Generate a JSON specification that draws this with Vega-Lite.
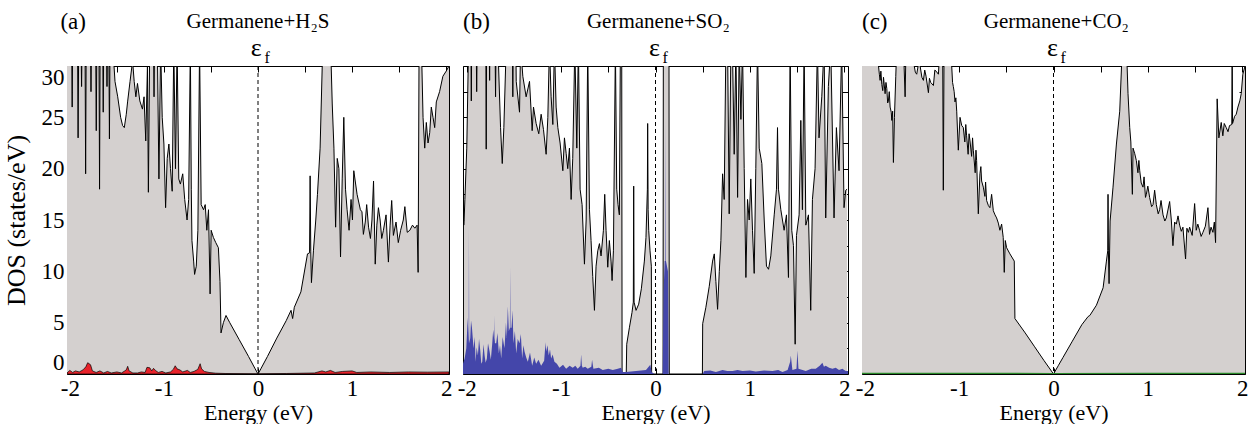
{
  "$schema": "https://vega.github.io/schema/vega-lite/v6.json",
  "background": "white",
  "padding": {"left": 2, "top": 10, "right": 5, "bottom": 0},
  "datasets": {
    "aTot": [
      {"e":-2.03,"d":32},{"e":-1.98,"d":32},{"e":-1.975,"d":26},{"e":-1.97,"d":32},{"e":-1.918,"d":32},{"e":-1.912,"d":23},{"e":-1.906,"d":32},{"e":-1.88,"d":32},{"e":-1.875,"d":28},{"e":-1.87,"d":32},{"e":-1.838,"d":32},{"e":-1.832,"d":19.5},{"e":-1.826,"d":32},{"e":-1.78,"d":32},{"e":-1.775,"d":27.5},{"e":-1.77,"d":32},{"e":-1.725,"d":32},{"e":-1.719,"d":23.7},{"e":-1.713,"d":32},{"e":-1.69,"d":32},{"e":-1.684,"d":18},{"e":-1.678,"d":32},{"e":-1.65,"d":32},{"e":-1.645,"d":25.5},{"e":-1.64,"d":32},{"e":-1.61,"d":32},{"e":-1.605,"d":28},{"e":-1.6,"d":32},{"e":-1.585,"d":32},{"e":-1.579,"d":22.9},{"e":-1.573,"d":32},{"e":-1.544,"d":32},{"e":-1.52,"d":28.5},{"e":-1.491,"d":27},{"e":-1.46,"d":25},{"e":-1.439,"d":24.2},{"e":-1.421,"d":24},{"e":-1.4,"d":25.3},{"e":-1.386,"d":26.5},{"e":-1.36,"d":28.5},{"e":-1.333,"d":30.5},{"e":-1.316,"d":28.5},{"e":-1.298,"d":27},{"e":-1.281,"d":28.3},{"e":-1.256,"d":26.6},{"e":-1.228,"d":25.8},{"e":-1.211,"d":27},{"e":-1.193,"d":22.7},{"e":-1.175,"d":30},{"e":-1.165,"d":17.7},{"e":-1.151,"d":32},{"e":-1.11,"d":32},{"e":-1.105,"d":27},{"e":-1.1,"d":32},{"e":-1.07,"d":32},{"e":-1.053,"d":19},{"e":-1.035,"d":32},{"e":-1.018,"d":25},{"e":-1.0,"d":22.4},{"e":-0.982,"d":16.2},{"e":-0.965,"d":21},{"e":-0.947,"d":22.4},{"e":-0.93,"d":20},{"e":-0.912,"d":17.8},{"e":-0.895,"d":32},{"e":-0.877,"d":20},{"e":-0.86,"d":32},{"e":-0.842,"d":19},{"e":-0.825,"d":18.5},{"e":-0.8,"d":19.5},{"e":-0.779,"d":17},{"e":-0.754,"d":15},{"e":-0.737,"d":17},{"e":-0.719,"d":32},{"e":-0.709,"d":18},{"e":-0.702,"d":13},{"e":-0.684,"d":11},{"e":-0.674,"d":9.7},{"e":-0.656,"d":10.5},{"e":-0.639,"d":14},{"e":-0.621,"d":32},{"e":-0.604,"d":16.5},{"e":-0.579,"d":16},{"e":-0.561,"d":16.5},{"e":-0.544,"d":14},{"e":-0.526,"d":16},{"e":-0.509,"d":7.8},{"e":-0.498,"d":14},{"e":-0.474,"d":13.3},{"e":-0.449,"d":12.8},{"e":-0.421,"d":12.3},{"e":-0.404,"d":9},{"e":-0.393,"d":4},{"e":-0.368,"d":5},{"e":-0.34,"d":5.7},{"e":-0.3,"d":5.0},{"e":-0.2,"d":3.35},{"e":-0.1,"d":1.7},{"e":-0.03,"d":0.5},{"e":0,"d":0},{"e":0.03,"d":0.5},{"e":0.1,"d":1.7},{"e":0.2,"d":3.5},{"e":0.3,"d":5.2},{"e":0.351,"d":6.2},{"e":0.368,"d":5.4},{"e":0.386,"d":6.5},{"e":0.456,"d":8},{"e":0.526,"d":11.7},{"e":0.548,"d":11.8},{"e":0.554,"d":19.3},{"e":0.561,"d":11.9},{"e":0.568,"d":8.9},{"e":0.589,"d":12},{"e":0.614,"d":15},{"e":0.632,"d":17.5},{"e":0.66,"d":22},{"e":0.684,"d":30.5},{"e":0.702,"d":32},{"e":0.772,"d":32},{"e":0.789,"d":26.3},{"e":0.807,"d":22},{"e":0.825,"d":14.3},{"e":0.842,"d":21},{"e":0.86,"d":20},{"e":0.877,"d":11.4},{"e":0.895,"d":19},{"e":0.912,"d":25},{"e":0.93,"d":18},{"e":0.947,"d":16},{"e":0.968,"d":14},{"e":0.989,"d":17},{"e":1.004,"d":15},{"e":1.018,"d":19.8},{"e":1.053,"d":17.5},{"e":1.088,"d":16},{"e":1.105,"d":15.8},{"e":1.12,"d":13.6},{"e":1.14,"d":14.8},{"e":1.155,"d":16.5},{"e":1.175,"d":14.3},{"e":1.195,"d":13.2},{"e":1.211,"d":15},{"e":1.228,"d":18.8},{"e":1.246,"d":10.7},{"e":1.263,"d":14.5},{"e":1.28,"d":16.2},{"e":1.298,"d":15},{"e":1.315,"d":13.2},{"e":1.333,"d":14},{"e":1.361,"d":15.5},{"e":1.386,"d":10.9},{"e":1.404,"d":14.5},{"e":1.421,"d":16.9},{"e":1.439,"d":13.5},{"e":1.467,"d":14.8},{"e":1.491,"d":12.8},{"e":1.516,"d":14},{"e":1.544,"d":15},{"e":1.561,"d":16.3},{"e":1.586,"d":13.8},{"e":1.614,"d":14},{"e":1.642,"d":14.5},{"e":1.667,"d":14.2},{"e":1.691,"d":14.5},{"e":1.702,"d":9.9},{"e":1.712,"d":32},{"e":1.737,"d":32},{"e":1.754,"d":25},{"e":1.772,"d":22},{"e":1.789,"d":24.5},{"e":1.807,"d":22.5},{"e":1.825,"d":23.5},{"e":1.842,"d":26},{"e":1.86,"d":25},{"e":1.878,"d":24},{"e":1.895,"d":26.5},{"e":1.93,"d":27.5},{"e":1.965,"d":29},{"e":2.0,"d":29.5},{"e":2.03,"d":30}
    ],
    "aAds": [
      {"e":-2.03,"d":0.1},{"e":-2.0,"d":0.35},{"e":-1.97,"d":0.15},{"e":-1.94,"d":0.3},{"e":-1.9,"d":0.2},{"e":-1.86,"d":0.4},{"e":-1.83,"d":0.7},{"e":-1.81,"d":1.1},{"e":-1.78,"d":0.9},{"e":-1.76,"d":0.3},{"e":-1.72,"d":0.15},{"e":-1.68,"d":0.3},{"e":-1.64,"d":0.1},{"e":-1.6,"d":0.25},{"e":-1.56,"d":0.1},{"e":-1.5,"d":0.2},{"e":-1.45,"d":0.1},{"e":-1.4,"d":0.4},{"e":-1.385,"d":0.75},{"e":-1.37,"d":0.3},{"e":-1.33,"d":0.1},{"e":-1.28,"d":0.1},{"e":-1.24,"d":0.2},{"e":-1.2,"d":0.15},{"e":-1.18,"d":0.65},{"e":-1.15,"d":0.6},{"e":-1.13,"d":0.3},{"e":-1.11,"d":0.55},{"e":-1.09,"d":0.35},{"e":-1.06,"d":0.15},{"e":-1.02,"d":0.25},{"e":-0.98,"d":0.1},{"e":-0.93,"d":0.2},{"e":-0.9,"d":0.45},{"e":-0.88,"d":0.8},{"e":-0.86,"d":0.5},{"e":-0.83,"d":0.4},{"e":-0.8,"d":0.2},{"e":-0.75,"d":0.35},{"e":-0.72,"d":0.15},{"e":-0.68,"d":0.25},{"e":-0.64,"d":0.45},{"e":-0.615,"d":1.0},{"e":-0.6,"d":0.5},{"e":-0.57,"d":0.25},{"e":-0.52,"d":0.15},{"e":-0.45,"d":0.08},{"e":-0.35,"d":0.05},{"e":0,"d":0.02},{"e":0.3,"d":0.05},{"e":0.6,"d":0.1},{"e":0.68,"d":0.3},{"e":0.72,"d":0.2},{"e":0.77,"d":0.35},{"e":0.82,"d":0.15},{"e":0.9,"d":0.25},{"e":1.0,"d":0.3},{"e":1.05,"d":0.15},{"e":1.2,"d":0.2},{"e":1.4,"d":0.15},{"e":1.6,"d":0.2},{"e":1.8,"d":0.18},{"e":2.03,"d":0.2}
    ],
    "bTot": [
      {"e":-2.03,"d":14.5},{"e":-2.02,"d":17},{"e":-2.0,"d":22},{"e":-1.985,"d":30},{"e":-1.975,"d":32},{"e":-1.956,"d":32},{"e":-1.952,"d":26.6},{"e":-1.948,"d":32},{"e":-1.9,"d":32},{"e":-1.895,"d":27.5},{"e":-1.89,"d":32},{"e":-1.798,"d":32},{"e":-1.794,"d":21.9},{"e":-1.79,"d":32},{"e":-1.762,"d":32},{"e":-1.758,"d":28.6},{"e":-1.754,"d":32},{"e":-1.7,"d":32},{"e":-1.695,"d":27},{"e":-1.69,"d":32},{"e":-1.67,"d":32},{"e":-1.642,"d":24},{"e":-1.624,"d":20.5},{"e":-1.607,"d":24},{"e":-1.582,"d":32},{"e":-1.516,"d":32},{"e":-1.512,"d":27},{"e":-1.508,"d":32},{"e":-1.48,"d":32},{"e":-1.476,"d":28.5},{"e":-1.441,"d":25.5},{"e":-1.43,"d":32},{"e":-1.406,"d":29},{"e":-1.371,"d":27},{"e":-1.335,"d":28.5},{"e":-1.307,"d":23.7},{"e":-1.293,"d":26},{"e":-1.265,"d":24.4},{"e":-1.237,"d":23.4},{"e":-1.212,"d":25.3},{"e":-1.187,"d":23.8},{"e":-1.159,"d":21.4},{"e":-1.141,"d":25},{"e":-1.124,"d":32},{"e":-1.106,"d":27},{"e":-1.088,"d":24.3},{"e":-1.071,"d":32},{"e":-1.053,"d":26},{"e":-1.035,"d":24},{"e":-1.011,"d":22.5},{"e":-0.982,"d":19.8},{"e":-0.965,"d":23},{"e":-0.947,"d":21.5},{"e":-0.93,"d":20},{"e":-0.912,"d":22},{"e":-0.894,"d":17},{"e":-0.877,"d":21},{"e":-0.855,"d":32},{"e":-0.834,"d":22},{"e":-0.817,"d":32},{"e":-0.799,"d":18},{"e":-0.778,"d":16.5},{"e":-0.753,"d":10.7},{"e":-0.735,"d":15},{"e":-0.718,"d":32},{"e":-0.7,"d":16},{"e":-0.683,"d":13},{"e":-0.665,"d":9.5},{"e":-0.647,"d":6.2},{"e":-0.63,"d":10.5},{"e":-0.612,"d":12},{"e":-0.594,"d":12.7},{"e":-0.577,"d":11.5},{"e":-0.552,"d":14},{"e":-0.538,"d":17.5},{"e":-0.524,"d":14},{"e":-0.506,"d":10.4},{"e":-0.489,"d":13},{"e":-0.471,"d":11},{"e":-0.46,"d":9.1},{"e":-0.446,"d":12},{"e":-0.425,"d":32},{"e":-0.411,"d":18},{"e":-0.397,"d":16.5},{"e":-0.383,"d":15.5},{"e":-0.372,"d":32},{"e":-0.358,"d":32},{"e":-0.354,"d":0},{"e":-0.31,"d":0},{"e":-0.305,"d":2.9},{"e":-0.277,"d":4.5},{"e":-0.249,"d":6},{"e":-0.235,"d":7},{"e":-0.231,"d":18.3},{"e":-0.227,"d":7},{"e":-0.206,"d":6.2},{"e":-0.178,"d":6.8},{"e":-0.15,"d":8.3},{"e":-0.118,"d":11},{"e":-0.101,"d":13.3},{"e":-0.086,"d":18},{"e":-0.083,"d":24.4},{"e":-0.078,"d":16},{"e":-0.072,"d":14},{"e":-0.058,"d":12},{"e":-0.044,"d":10.5},{"e":-0.041,"d":0},{"e":0.08,"d":0},{"e":0.083,"d":32},{"e":0.143,"d":32},{"e":0.146,"d":0},{"e":0.497,"d":0},{"e":0.5,"d":4.9},{"e":0.534,"d":6.5},{"e":0.569,"d":8.5},{"e":0.605,"d":11},{"e":0.623,"d":11.7},{"e":0.64,"d":9},{"e":0.658,"d":6.3},{"e":0.676,"d":10},{"e":0.693,"d":13},{"e":0.711,"d":19.5},{"e":0.728,"d":17},{"e":0.746,"d":32},{"e":0.764,"d":32},{"e":0.781,"d":15.6},{"e":0.799,"d":32},{"e":0.815,"d":32},{"e":0.834,"d":21.4},{"e":0.852,"d":32},{"e":0.87,"d":17.2},{"e":0.887,"d":32},{"e":0.905,"d":24.8},{"e":0.922,"d":32},{"e":0.94,"d":20},{"e":0.958,"d":9.4},{"e":0.975,"d":17},{"e":0.993,"d":15},{"e":1.01,"d":19},{"e":1.028,"d":14},{"e":1.046,"d":9.8},{"e":1.063,"d":20},{"e":1.081,"d":32},{"e":1.099,"d":22},{"e":1.127,"d":20.5},{"e":1.152,"d":15},{"e":1.176,"d":10.5},{"e":1.198,"d":10.2},{"e":1.222,"d":11.5},{"e":1.258,"d":15.5},{"e":1.282,"d":18},{"e":1.293,"d":24},{"e":1.303,"d":18},{"e":1.328,"d":16},{"e":1.363,"d":14},{"e":1.388,"d":15.5},{"e":1.409,"d":9.4},{"e":1.427,"d":32},{"e":1.444,"d":14},{"e":1.462,"d":12.5},{"e":1.48,"d":2.9},{"e":1.494,"d":13.5},{"e":1.522,"d":15.5},{"e":1.54,"d":24.7},{"e":1.557,"d":16},{"e":1.575,"d":32},{"e":1.593,"d":14.5},{"e":1.621,"d":15.5},{"e":1.645,"d":6.2},{"e":1.663,"d":17},{"e":1.691,"d":20},{"e":1.716,"d":32},{"e":1.733,"d":23},{"e":1.762,"d":27},{"e":1.787,"d":32},{"e":1.804,"d":15.2},{"e":1.832,"d":28},{"e":1.857,"d":32},{"e":1.892,"d":15.2},{"e":1.917,"d":24},{"e":1.945,"d":19.8},{"e":1.973,"d":32},{"e":1.998,"d":16.2},{"e":2.016,"d":17.9},{"e":2.03,"d":18}
    ],
    "bAds": [
      {"e":-2.04,"d":1.0},{"e":-2.023,"d":1.5},{"e":-2.005,"d":2.5},{"e":-1.99,"d":5.5},{"e":-1.98,"d":3},{"e":-1.977,"d":14.4},{"e":-1.974,"d":3},{"e":-1.963,"d":3.5},{"e":-1.955,"d":5.2},{"e":-1.945,"d":4.5},{"e":-1.928,"d":2.5},{"e":-1.915,"d":3.6},{"e":-1.907,"d":1.2},{"e":-1.895,"d":2.6},{"e":-1.882,"d":1.8},{"e":-1.87,"d":3.4},{"e":-1.857,"d":2.3},{"e":-1.846,"d":1.0},{"e":-1.836,"d":1.2},{"e":-1.823,"d":2.9},{"e":-1.811,"d":1.8},{"e":-1.8,"d":1.1},{"e":-1.787,"d":1.5},{"e":-1.775,"d":3.0},{"e":-1.758,"d":2.2},{"e":-1.745,"d":1.4},{"e":-1.73,"d":3},{"e":-1.72,"d":4.3},{"e":-1.708,"d":3.2},{"e":-1.705,"d":5.7},{"e":-1.702,"d":3},{"e":-1.688,"d":3},{"e":-1.675,"d":4.0},{"e":-1.66,"d":2},{"e":-1.648,"d":2.8},{"e":-1.635,"d":1.5},{"e":-1.62,"d":3.6},{"e":-1.6,"d":2.5},{"e":-1.585,"d":5.0},{"e":-1.575,"d":3.5},{"e":-1.565,"d":6.6},{"e":-1.554,"d":4.2},{"e":-1.543,"d":4.5},{"e":-1.54,"d":10.4},{"e":-1.537,"d":4.5},{"e":-1.526,"d":4.5},{"e":-1.515,"d":6.2},{"e":-1.505,"d":3},{"e":-1.49,"d":4.2},{"e":-1.476,"d":2},{"e":-1.46,"d":3.4},{"e":-1.441,"d":3},{"e":-1.427,"d":3.9},{"e":-1.413,"d":1.5},{"e":-1.4,"d":2.8},{"e":-1.388,"d":2.2},{"e":-1.37,"d":1.6},{"e":-1.353,"d":1.2},{"e":-1.33,"d":2.1},{"e":-1.307,"d":0.8},{"e":-1.285,"d":1.6},{"e":-1.265,"d":1},{"e":-1.24,"d":1.4},{"e":-1.212,"d":0.8},{"e":-1.18,"d":1.3},{"e":-1.165,"d":3.1},{"e":-1.159,"d":2.2},{"e":-1.145,"d":2.8},{"e":-1.131,"d":1.8},{"e":-1.118,"d":2.4},{"e":-1.106,"d":1.5},{"e":-1.09,"d":1.9},{"e":-1.071,"d":1.2},{"e":-1.045,"d":1.0},{"e":-1.018,"d":0.6},{"e":-0.98,"d":0.9},{"e":-0.947,"d":0.5},{"e":-0.91,"d":0.8},{"e":-0.877,"d":0.6},{"e":-0.85,"d":0.8},{"e":-0.824,"d":0.5},{"e":-0.795,"d":0.8},{"e":-0.788,"d":1.9},{"e":-0.78,"d":0.8},{"e":-0.771,"d":0.6},{"e":-0.745,"d":0.7},{"e":-0.718,"d":0.5},{"e":-0.68,"d":0.7},{"e":-0.672,"d":1.4},{"e":-0.658,"d":0.5},{"e":-0.6,"d":0.6},{"e":-0.559,"d":0.4},{"e":-0.5,"d":0.5},{"e":-0.453,"d":0.4},{"e":-0.4,"d":0.5},{"e":-0.365,"d":0.6},{"e":-0.347,"d":0.2},{"e":-0.312,"d":0.2},{"e":-0.206,"d":0.3},{"e":-0.101,"d":0.4},{"e":-0.055,"d":0.9},{"e":-0.041,"d":0.2},{"e":-0.012,"d":0},{"e":0.076,"d":0},{"e":0.086,"d":8},{"e":0.097,"d":11},{"e":0.105,"d":11},{"e":0.108,"d":25},{"e":0.111,"d":11},{"e":0.132,"d":10},{"e":0.139,"d":0},{"e":0.499,"d":0},{"e":0.517,"d":0.3},{"e":0.58,"d":0.35},{"e":0.64,"d":0.2},{"e":0.711,"d":0.4},{"e":0.76,"d":0.3},{"e":0.817,"d":0.3},{"e":0.87,"d":0.4},{"e":0.922,"d":0.3},{"e":1.0,"d":0.35},{"e":1.063,"d":0.25},{"e":1.15,"d":0.35},{"e":1.24,"d":0.3},{"e":1.3,"d":0.4},{"e":1.346,"d":0.2},{"e":1.4,"d":0.4},{"e":1.427,"d":1.2},{"e":1.434,"d":1.8},{"e":1.451,"d":0.4},{"e":1.494,"d":0.5},{"e":1.504,"d":2.3},{"e":1.515,"d":0.5},{"e":1.593,"d":0.3},{"e":1.65,"d":0.5},{"e":1.698,"d":0.5},{"e":1.74,"d":0.8},{"e":1.769,"d":1.1},{"e":1.785,"d":0.7},{"e":1.804,"d":0.8},{"e":1.84,"d":0.6},{"e":1.875,"d":0.5},{"e":1.91,"d":0.6},{"e":1.945,"d":0.4},{"e":1.98,"d":0.5},{"e":2.016,"d":0.3},{"e":2.04,"d":0.3}
    ],
    "cTot": [
      {"e":-2.03,"d":32},{"e":-1.873,"d":32},{"e":-1.855,"d":30},{"e":-1.846,"d":29.2},{"e":-1.838,"d":28.6},{"e":-1.83,"d":29.5},{"e":-1.82,"d":28.2},{"e":-1.81,"d":27.6},{"e":-1.802,"d":28.9},{"e":-1.785,"d":27.3},{"e":-1.776,"d":28.4},{"e":-1.767,"d":27.8},{"e":-1.758,"d":26.4},{"e":-1.75,"d":26.6},{"e":-1.741,"d":27.5},{"e":-1.732,"d":26},{"e":-1.72,"d":25.5},{"e":-1.714,"d":24.7},{"e":-1.705,"d":25.6},{"e":-1.697,"d":20.6},{"e":-1.686,"d":25},{"e":-1.672,"d":29},{"e":-1.661,"d":32},{"e":-1.591,"d":32},{"e":-1.573,"d":27},{"e":-1.563,"d":32},{"e":-1.52,"d":30},{"e":-1.485,"d":30.5},{"e":-1.465,"d":29.4},{"e":-1.45,"d":29.2},{"e":-1.43,"d":30.3},{"e":-1.414,"d":30},{"e":-1.395,"d":28.9},{"e":-1.379,"d":28.6},{"e":-1.365,"d":29.6},{"e":-1.351,"d":29},{"e":-1.326,"d":27.4},{"e":-1.315,"d":28.8},{"e":-1.302,"d":28.4},{"e":-1.273,"d":28.1},{"e":-1.258,"d":29.6},{"e":-1.245,"d":29.5},{"e":-1.22,"d":29.2},{"e":-1.203,"d":32},{"e":-1.175,"d":32},{"e":-1.168,"d":17.9},{"e":-1.16,"d":32},{"e":-1.097,"d":32},{"e":-1.079,"d":30},{"e":-1.07,"d":28.4},{"e":-1.062,"d":28},{"e":-1.053,"d":27.5},{"e":-1.044,"d":26.5},{"e":-1.035,"d":26.9},{"e":-1.026,"d":25.6},{"e":-1.009,"d":21.8},{"e":-0.991,"d":25},{"e":-0.973,"d":24.2},{"e":-0.956,"d":24},{"e":-0.94,"d":22.6},{"e":-0.93,"d":24.3},{"e":-0.921,"d":23.2},{"e":-0.905,"d":21.4},{"e":-0.895,"d":23.4},{"e":-0.885,"d":22.7},{"e":-0.868,"d":21.2},{"e":-0.858,"d":23},{"e":-0.85,"d":21.8},{"e":-0.83,"d":19.6},{"e":-0.822,"d":21.8},{"e":-0.815,"d":20.8},{"e":-0.797,"d":15.6},{"e":-0.78,"d":19.5},{"e":-0.77,"d":20.2},{"e":-0.762,"d":18.8},{"e":-0.744,"d":18.2},{"e":-0.727,"d":17.3},{"e":-0.72,"d":18.7},{"e":-0.709,"d":16.9},{"e":-0.69,"d":16.4},{"e":-0.674,"d":16.2},{"e":-0.656,"d":17.5},{"e":-0.638,"d":15.9},{"e":-0.62,"d":15.5},{"e":-0.603,"d":15.2},{"e":-0.585,"d":14.7},{"e":-0.568,"d":14},{"e":-0.55,"d":14.6},{"e":-0.533,"d":13.3},{"e":-0.522,"d":9.9},{"e":-0.511,"d":13},{"e":-0.497,"d":12.3},{"e":-0.462,"d":11.7},{"e":-0.416,"d":11},{"e":-0.409,"d":5.4},{"e":-0.3,"d":4.0},{"e":-0.2,"d":2.65},{"e":-0.1,"d":1.3},{"e":0,"d":0},{"e":0.05,"d":0.8},{"e":0.1,"d":1.6},{"e":0.2,"d":3.2},{"e":0.3,"d":4.8},{"e":0.367,"d":5.6},{"e":0.385,"d":5.7},{"e":0.455,"d":6.7},{"e":0.526,"d":8.4},{"e":0.561,"d":11},{"e":0.575,"d":12},{"e":0.578,"d":17.5},{"e":0.582,"d":12},{"e":0.589,"d":8.8},{"e":0.6,"d":14.9},{"e":0.631,"d":18.2},{"e":0.667,"d":22.4},{"e":0.702,"d":25.6},{"e":0.73,"d":32},{"e":0.773,"d":32},{"e":0.79,"d":27.3},{"e":0.808,"d":24},{"e":0.82,"d":22.6},{"e":0.836,"d":17.5},{"e":0.843,"d":22},{"e":0.86,"d":21.5},{"e":0.878,"d":20.8},{"e":0.895,"d":19.6},{"e":0.905,"d":20.8},{"e":0.914,"d":19.8},{"e":0.93,"d":18.6},{"e":0.949,"d":18.2},{"e":0.96,"d":19.2},{"e":0.975,"d":17.2},{"e":0.984,"d":17.5},{"e":1.0,"d":18.3},{"e":1.019,"d":17.2},{"e":1.04,"d":16.3},{"e":1.055,"d":16.5},{"e":1.072,"d":17.9},{"e":1.09,"d":16.5},{"e":1.11,"d":15.6},{"e":1.125,"d":16},{"e":1.14,"d":16.9},{"e":1.161,"d":15.5},{"e":1.18,"d":14.9},{"e":1.196,"d":15.2},{"e":1.231,"d":16.8},{"e":1.249,"d":15},{"e":1.266,"d":12.5},{"e":1.284,"d":14.8},{"e":1.302,"d":14.6},{"e":1.32,"d":15.4},{"e":1.337,"d":14.5},{"e":1.355,"d":13.9},{"e":1.372,"d":14.3},{"e":1.4,"d":11.2},{"e":1.414,"d":14.2},{"e":1.43,"d":13.8},{"e":1.443,"d":14.3},{"e":1.47,"d":13.5},{"e":1.496,"d":16.6},{"e":1.513,"d":14},{"e":1.53,"d":14.6},{"e":1.548,"d":14},{"e":1.565,"d":13.4},{"e":1.584,"d":13.8},{"e":1.61,"d":14.4},{"e":1.637,"d":16.2},{"e":1.654,"d":13.6},{"e":1.67,"d":14.3},{"e":1.69,"d":13.8},{"e":1.705,"d":14.8},{"e":1.718,"d":12.8},{"e":1.735,"d":26.8},{"e":1.753,"d":23},{"e":1.778,"d":24.5},{"e":1.795,"d":23.2},{"e":1.81,"d":24.4},{"e":1.831,"d":24},{"e":1.85,"d":23.6},{"e":1.866,"d":24.2},{"e":1.89,"d":24.3},{"e":1.894,"d":32},{"e":1.898,"d":24.4},{"e":1.92,"d":25.1},{"e":1.937,"d":25.3},{"e":1.955,"d":26},{"e":1.975,"d":26.6},{"e":1.99,"d":27.3},{"e":2.007,"d":29.2},{"e":2.03,"d":30}
    ],
    "cAds": [
      {"e":-2.03,"d":0.05},{"e":-1.0,"d":0.06},{"e":0,"d":0.03},{"e":1.0,"d":0.06},{"e":2.03,"d":0.05}
    ]
  },
  "config": {
    "view": {"stroke": "black", "strokeWidth": 1},
    "font": "Liberation Serif",
    "axis": {
      "grid": false, "domain": false, "tickColor": "black", "tickSize": -6, "tickWidth": 1,
      "labelColor": "black", "labelFont": "Liberation Serif", "labelFontSize": 23,
      "titleFont": "Liberation Serif", "titleFontSize": 22, "titleFontWeight": "normal", "titleColor": "black"
    },
    "text": {"font": "Liberation Serif", "color": "black"}
  },
  "hconcat": [
    {
      "width": 382, "height": 308,
      "resolve": {"axis": {"x": "independent", "y": "independent"}},
      "layer": [
        {"data": {"name": "aTot"}, "mark": {"type": "area", "color": "#d4d0cf", "clip": true},
         "encoding": {
           "x": {"field": "e", "type": "quantitative", "scale": {"domain": [-2.03, 2.03], "nice": false, "zero": false},
                 "axis": {"orient": "bottom", "values": [-2,-1.5,-1,-0.5,0,0.5,1,1.5,2], "labelExpr": "datum.value % 1 === 0 ? '' + datum.value : ''", "labelFlush": false, "labelPadding": 9, "title": "Energy (eV)", "titlePadding": 2}},
           "y": {"field": "d", "type": "quantitative", "scale": {"domain": [0, 30], "nice": false},
                 "axis": {"orient": "left", "values": [0,2.5,5,7.5,10,12.5,15,17.5,20,22.5,25,27.5,30], "labelExpr": "datum.value % 5 === 0 ? '' + datum.value : ''", "labelFlush": true, "labelPadding": 9, "title": "DOS (states/eV)", "titleFontSize": 26, "titlePadding": 12}}}},
        {"data": {"name": "aTot"}, "mark": {"type": "line", "color": "black", "strokeWidth": 1, "clip": true},
         "encoding": {
           "x": {"field": "e", "type": "quantitative", "scale": {"domain": [-2.03, 2.03], "nice": false, "zero": false},
                 "axis": {"orient": "top", "values": [-2,-1.5,-1,-0.5,0,0.5,1,1.5,2], "labels": false, "title": null}},
           "y": {"field": "d", "type": "quantitative", "scale": {"domain": [0, 30], "nice": false},
                 "axis": {"orient": "right", "values": [0,2.5,5,7.5,10,12.5,15,17.5,20,22.5,25,27.5,30], "labels": false, "title": null}}}},
        {"data": {"name": "aAds"}, "mark": {"type": "area", "color": "#e8222a", "stroke": "black", "strokeWidth": 0.7, "clip": true},
         "encoding": {
           "x": {"field": "e", "type": "quantitative", "scale": {"domain": [-2.03, 2.03], "nice": false, "zero": false}, "axis": null},
           "y": {"field": "d", "type": "quantitative", "scale": {"domain": [0, 30], "nice": false}, "axis": null}}},
        {"data": {"values": [{"e": 0}]}, "mark": {"type": "rule", "color": "black", "strokeWidth": 1, "strokeDash": [4, 3]},
         "encoding": {"x": {"field": "e", "type": "quantitative", "scale": {"domain": [-2.03, 2.03], "nice": false, "zero": false}, "axis": null}}},
        {"data": {"values": [{"t": "(a)"}]}, "mark": {"type": "text", "align": "left", "baseline": "alphabetic", "fontSize": 23},
         "encoding": {"x": {"datum": -2.1, "type": "quantitative", "axis": null}, "y": {"datum": 33.6, "type": "quantitative", "axis": null}, "text": {"field": "t"}}},
        {"data": {"values": [{"t": "Germanene+H₂S"}]}, "mark": {"type": "text", "align": "center", "baseline": "alphabetic", "fontSize": 21},
         "encoding": {"x": {"datum": 0, "type": "quantitative", "axis": null}, "y": {"datum": 33.7, "type": "quantitative", "axis": null}, "text": {"field": "t"}}},
        {"data": {"values": [{"t": "ε"}]}, "mark": {"type": "text", "align": "center", "baseline": "alphabetic", "fontSize": 26},
         "encoding": {"x": {"datum": -0.02, "type": "quantitative", "axis": null}, "y": {"datum": 30.95, "type": "quantitative", "axis": null}, "text": {"field": "t"}}},
        {"data": {"values": [{"t": "f"}]}, "mark": {"type": "text", "align": "left", "baseline": "alphabetic", "fontSize": 16},
         "encoding": {"x": {"datum": 0.07, "type": "quantitative", "axis": null}, "y": {"datum": 30.3, "type": "quantitative", "axis": null}, "text": {"field": "t"}}}
      ]
    },
    {
      "width": 385, "height": 308,
      "resolve": {"axis": {"x": "independent", "y": "independent"}},
      "layer": [
        {"data": {"name": "bTot"}, "mark": {"type": "area", "color": "#d4d0cf", "clip": true},
         "encoding": {
           "x": {"field": "e", "type": "quantitative", "scale": {"domain": [-2.04, 2.04], "nice": false, "zero": false},
                 "axis": {"orient": "bottom", "values": [-2,-1.5,-1,-0.5,0,0.5,1,1.5,2], "labelExpr": "datum.value % 1 === 0 ? '' + datum.value : ''", "labelFlush": false, "labelPadding": 9, "title": "Energy (eV)", "titlePadding": 2}},
           "y": {"field": "d", "type": "quantitative", "scale": {"domain": [0, 30], "nice": false},
                 "axis": {"orient": "left", "values": [0,2.5,5,7.5,10,12.5,15,17.5,20,22.5,25,27.5,30], "labels": false, "title": null}}}},
        {"data": {"name": "bTot"}, "mark": {"type": "line", "color": "black", "strokeWidth": 1, "clip": true},
         "encoding": {
           "x": {"field": "e", "type": "quantitative", "scale": {"domain": [-2.04, 2.04], "nice": false, "zero": false},
                 "axis": {"orient": "top", "values": [-2,-1.5,-1,-0.5,0,0.5,1,1.5,2], "labels": false, "title": null}},
           "y": {"field": "d", "type": "quantitative", "scale": {"domain": [0, 30], "nice": false},
                 "axis": {"orient": "right", "values": [0,2.5,5,7.5,10,12.5,15,17.5,20,22.5,25,27.5,30], "labels": false, "title": null}}}},
        {"data": {"name": "bAds"}, "mark": {"type": "area", "color": "#4446aa", "clip": true},
         "encoding": {
           "x": {"field": "e", "type": "quantitative", "scale": {"domain": [-2.04, 2.04], "nice": false, "zero": false}, "axis": null},
           "y": {"field": "d", "type": "quantitative", "scale": {"domain": [0, 30], "nice": false}, "axis": null}}},
        {"data": {"values": [{"e": 0}]}, "mark": {"type": "rule", "color": "black", "strokeWidth": 1, "strokeDash": [4, 3]},
         "encoding": {"x": {"field": "e", "type": "quantitative", "scale": {"domain": [-2.04, 2.04], "nice": false, "zero": false}, "axis": null}}},
        {"data": {"values": [{"t": "(b)"}]}, "mark": {"type": "text", "align": "left", "baseline": "alphabetic", "fontSize": 23},
         "encoding": {"x": {"datum": -2.04, "type": "quantitative", "axis": null}, "y": {"datum": 33.6, "type": "quantitative", "axis": null}, "text": {"field": "t"}}},
        {"data": {"values": [{"t": "Germanene+SO₂"}]}, "mark": {"type": "text", "align": "center", "baseline": "alphabetic", "fontSize": 21},
         "encoding": {"x": {"datum": 0.03, "type": "quantitative", "axis": null}, "y": {"datum": 33.7, "type": "quantitative", "axis": null}, "text": {"field": "t"}}},
        {"data": {"values": [{"t": "ε"}]}, "mark": {"type": "text", "align": "center", "baseline": "alphabetic", "fontSize": 26},
         "encoding": {"x": {"datum": -0.01, "type": "quantitative", "axis": null}, "y": {"datum": 30.95, "type": "quantitative", "axis": null}, "text": {"field": "t"}}},
        {"data": {"values": [{"t": "f"}]}, "mark": {"type": "text", "align": "left", "baseline": "alphabetic", "fontSize": 16},
         "encoding": {"x": {"datum": 0.075, "type": "quantitative", "axis": null}, "y": {"datum": 30.3, "type": "quantitative", "axis": null}, "text": {"field": "t"}}}
      ]
    },
    {
      "width": 383, "height": 308,
      "resolve": {"axis": {"x": "independent", "y": "independent"}},
      "layer": [
        {"data": {"name": "cTot"}, "mark": {"type": "area", "color": "#d4d0cf", "clip": true},
         "encoding": {
           "x": {"field": "e", "type": "quantitative", "scale": {"domain": [-2.03, 2.03], "nice": false, "zero": false},
                 "axis": {"orient": "bottom", "values": [-2,-1.5,-1,-0.5,0,0.5,1,1.5,2], "labelExpr": "datum.value % 1 === 0 ? '' + datum.value : ''", "labelFlush": false, "labelPadding": 9, "title": "Energy (eV)", "titlePadding": 2}},
           "y": {"field": "d", "type": "quantitative", "scale": {"domain": [0, 30], "nice": false},
                 "axis": {"orient": "left", "values": [0,2.5,5,7.5,10,12.5,15,17.5,20,22.5,25,27.5,30], "labels": false, "title": null}}}},
        {"data": {"name": "cTot"}, "mark": {"type": "line", "color": "black", "strokeWidth": 1, "clip": true},
         "encoding": {
           "x": {"field": "e", "type": "quantitative", "scale": {"domain": [-2.03, 2.03], "nice": false, "zero": false},
                 "axis": {"orient": "top", "values": [-2,-1.5,-1,-0.5,0,0.5,1,1.5,2], "labels": false, "title": null}},
           "y": {"field": "d", "type": "quantitative", "scale": {"domain": [0, 30], "nice": false},
                 "axis": {"orient": "right", "values": [0,2.5,5,7.5,10,12.5,15,17.5,20,22.5,25,27.5,30], "labels": false, "title": null}}}},
        {"data": {"name": "cAds"}, "mark": {"type": "area", "color": "#2a8a2a", "stroke": "#2a8a2a", "strokeWidth": 1.5, "clip": true},
         "encoding": {
           "x": {"field": "e", "type": "quantitative", "scale": {"domain": [-2.03, 2.03], "nice": false, "zero": false}, "axis": null},
           "y": {"field": "d", "type": "quantitative", "scale": {"domain": [0, 30], "nice": false}, "axis": null}}},
        {"data": {"values": [{"e": 0}]}, "mark": {"type": "rule", "color": "black", "strokeWidth": 1, "strokeDash": [4, 3]},
         "encoding": {"x": {"field": "e", "type": "quantitative", "scale": {"domain": [-2.03, 2.03], "nice": false, "zero": false}, "axis": null}}},
        {"data": {"values": [{"t": "(c)"}]}, "mark": {"type": "text", "align": "left", "baseline": "alphabetic", "fontSize": 23},
         "encoding": {"x": {"datum": -2.03, "type": "quantitative", "axis": null}, "y": {"datum": 33.6, "type": "quantitative", "axis": null}, "text": {"field": "t"}}},
        {"data": {"values": [{"t": "Germanene+CO₂"}]}, "mark": {"type": "text", "align": "center", "baseline": "alphabetic", "fontSize": 21},
         "encoding": {"x": {"datum": 0.03, "type": "quantitative", "axis": null}, "y": {"datum": 33.7, "type": "quantitative", "axis": null}, "text": {"field": "t"}}},
        {"data": {"values": [{"t": "ε"}]}, "mark": {"type": "text", "align": "center", "baseline": "alphabetic", "fontSize": 26},
         "encoding": {"x": {"datum": -0.01, "type": "quantitative", "axis": null}, "y": {"datum": 30.95, "type": "quantitative", "axis": null}, "text": {"field": "t"}}},
        {"data": {"values": [{"t": "f"}]}, "mark": {"type": "text", "align": "left", "baseline": "alphabetic", "fontSize": 16},
         "encoding": {"x": {"datum": 0.075, "type": "quantitative", "axis": null}, "y": {"datum": 30.3, "type": "quantitative", "axis": null}, "text": {"field": "t"}}}
      ]
    }
  ],
  "spacing": 14,
  "bounds": "flush"
}
